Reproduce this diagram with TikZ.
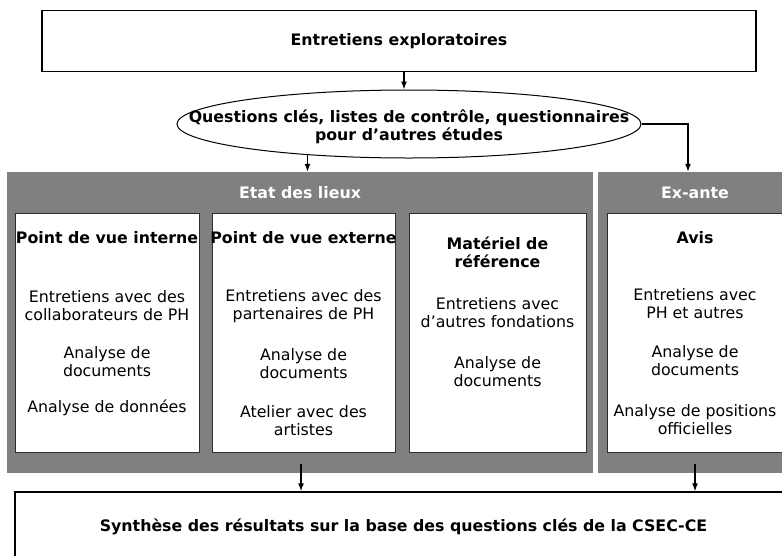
\documentclass[tikz,border=0pt]{standalone}
\usepackage{fontspec}
\setmainfont{DejaVu Sans}
\usepackage{tikz}
\usetikzlibrary{shapes.geometric, arrows.meta, calc}
\definecolor{PanelGray}{RGB}{128,128,128}
\definecolor{CardEdge}{RGB}{45,45,45}
\newcommand{\diagfont}{\fontsize{15.8}{18}\selectfont}

\begin{document}
\begin{tikzpicture}[x=1pt, y=-1pt,
          frame/.style={rectangle, draw=black, line width=1.3pt, fill=white,
                        inner sep=0pt, font=\diagfont\bfseries, align=center},
          oval/.style={ellipse, draw=black, line width=1pt, fill=white,
                       inner sep=0pt, minimum width=464, minimum height=68},
          panel/.style={rectangle, fill=PanelGray, inner sep=0pt,
                        minimum height=301},
          card/.style={rectangle, draw=CardEdge, line width=1pt, fill=white,
                       inner sep=0pt, minimum height=239},
          head/.style={font=\diagfont\bfseries, text=white, inner sep=0pt},
          ttl/.style={font=\diagfont\bfseries, align=center, inner sep=0pt},
          txt/.style={font=\diagfont, align=center, inner sep=0pt},
          arr/.style={-{Latex[length=8pt, width=6pt]}, line width=1.3pt}
        ]
        \clip (0,0) rectangle (782,555);

        % Top
        \node[frame, minimum width=714, minimum height=61] (explo) at (399,41)
              {Entretiens exploratoires};
        \node[oval] (ques) at (409,124) {};
        \node[ttl] (questxt) at (409,127)
              {Questions clés, listes de contrôle, questionnaires\\pour d’autres études};

        % Panels
        \node[panel, minimum width=586] (etat)   at (300,322.5) {};
        \node[panel, minimum width=194] (exante) at (695,322.5) {};
        \node[head] (etatlbl)   at (300,193) {Etat des lieux};
        \node[head] (exantelbl) at (695,193) {Ex-ante};

        % Cards
        \node[card, minimum width=184] (interne)  at (107,332.5) {};
        \node[card, minimum width=183] (externe)  at (303.5,332.5) {};
        \node[card, minimum width=177] (materiel) at (497.5,332.5) {};
        \node[card, minimum width=176] (avis)     at (695,332.5) {};

        % Card texts
        \node[ttl] (interne1) at (107,238) {Point de vue interne};
        \node[txt] (interne2) at (107,305.5) {Entretiens avec des\\collaborateurs de PH};
        \node[txt] (interne3) at (107,361.5) {Analyse de\\documents};
        \node[txt] (interne4) at (107,408) {Analyse de données};

        \node[ttl] (externe1) at (303.5,238) {Point de vue externe};
        \node[txt] (externe2) at (303.5,306.5) {Entretiens avec des\\partenaires de PH};
        \node[txt] (externe3) at (303.5,363.5) {Analyse de\\documents};
        \node[txt] (externe4) at (303.5,421) {Atelier avec des\\artistes};

        \node[ttl] (materiel1) at (497.5,252.5) {Matériel de\\référence};
        \node[txt] (materiel2) at (497.5,312.5) {Entretiens avec\\d’autres fondations};
        \node[txt] (materiel3) at (497.5,372) {Analyse de\\documents};

        \node[ttl] (avis1) at (695,238) {Avis};
        \node[txt] (avis2) at (695,304) {Entretiens avec\\PH et autres};
        \node[txt] (avis3) at (695,361) {Analyse de\\documents};
        \node[txt] (avis4) at (695,420) {Analyse de positions\\officielles};

        % Bottom
        \node[frame, minimum width=777, minimum height=70] (synth) at (403.5,527)
              {Synthèse des résultats sur la base des questions clés de la CSEC-CE};

        % Arrows
        \draw[arr] (explo.south -| 404,0) -- (ques.north -| 404,0);
        \draw[arr] (ques.197) -- (ques.197 |- etat.north);
        \draw[arr] (ques.east) -| ([xshift=-7]exante.north);
        \coordinate (out1) at (301,464);
        \coordinate (out2) at (695,464);
        \draw[arr] (out1) -- (out1 |- synth.north);
        \draw[arr] (out2) -- (out2 |- synth.north);
      \end{tikzpicture}
\end{document}
